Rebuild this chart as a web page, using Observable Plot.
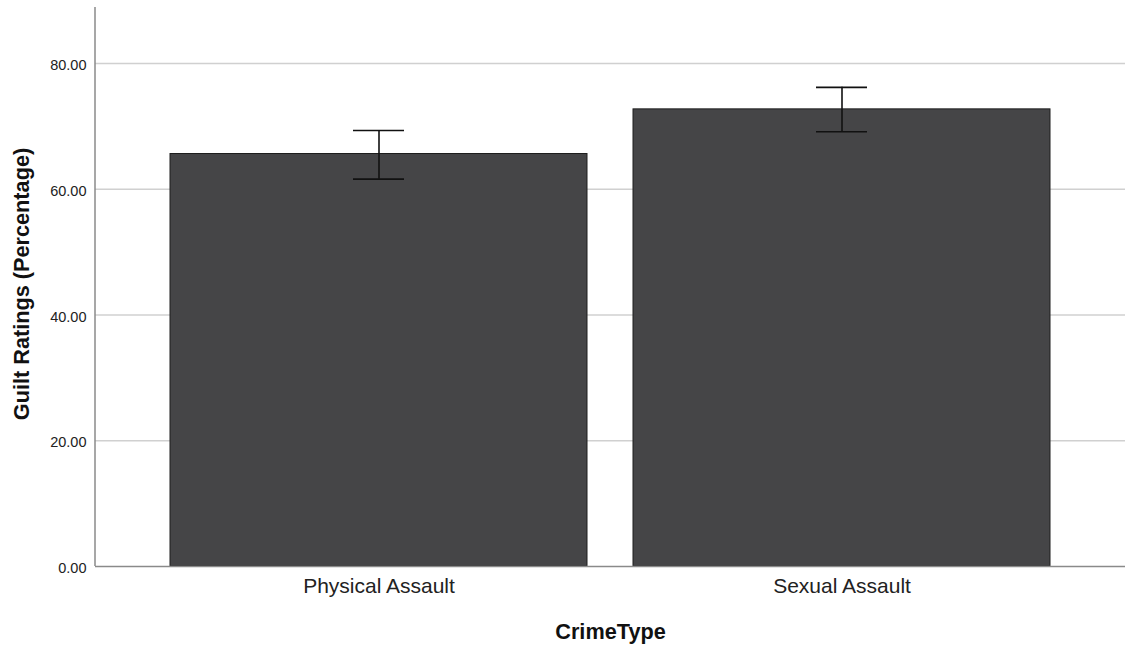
<!DOCTYPE html>
<html>
<head>
<meta charset="utf-8">
<script src="https://cdn.jsdelivr.net/npm/d3@7"></script>
<script src="https://cdn.jsdelivr.net/npm/@observablehq/plot@0.6"></script>
<style>
  html, body { margin: 0; padding: 0; background: #fff; }
</style>
</head>
<body>
<div id="chart"></div>
<script>
// Mean guilt ratings by crime type, with error bar bounds
const categories = ["Physical Assault", "Sexual Assault"];
const means = [65.6, 72.7];
const lower = [61.6, 69.15];
const upper = [69.35, 76.2];
const yTicks = [0, 20, 40, 60, 80];
const gridTicks = [20, 40, 60, 80];
const xTitle = "CrimeType";
const yTitle = "Guilt Ratings (Percentage)";

const rows = categories.map((c, i) => ({crime: c, mean: means[i], lo: lower[i], hi: upper[i]}));

const font = "'Liberation Sans', Arial, Helvetica, sans-serif";

// left axis line along the frame edge
const leftAxisLine = (index, scales, values, dims) => {
  const g = d3.create("svg:line")
    .attr("x1", dims.marginLeft).attr("x2", dims.marginLeft)
    .attr("y1", dims.marginTop).attr("y2", dims.height - dims.marginBottom)
    .attr("stroke", "#8a8a8a").attr("stroke-width", 1.5);
  return g.node();
};

const chart = Plot.plot({
  width: 1128,
  height: 645,
  marginLeft: 95,
  marginRight: 3,
  marginTop: 7,
  marginBottom: 79,
  style: {fontFamily: font, background: "#fff", color: "#222"},
  x: {domain: categories, paddingInner: 0.1, paddingOuter: 0.16, label: null},
  y: {domain: [0, 88.9], label: null},
  marks: [
    Plot.ruleY(gridTicks, {stroke: "#d0d0d0", strokeWidth: 1.5}),
    Plot.barY(rows, {x: "crime", y: "mean", fill: "#454547", stroke: "#1e1e1e", strokeWidth: 1}),
    Plot.ruleX(rows, {x: "crime", y1: "lo", y2: "hi", stroke: "#111", strokeWidth: 1.6}),
    Plot.tickY(rows, {x: "crime", y: "lo", stroke: "#111", strokeWidth: 1.6, insetLeft: 183, insetRight: 183}),
    Plot.tickY(rows, {x: "crime", y: "hi", stroke: "#111", strokeWidth: 1.6, insetLeft: 183, insetRight: 183}),
    Plot.ruleY([0], {stroke: "#8a8a8a", strokeWidth: 1.5}),
    leftAxisLine,
    Plot.axisY({ticks: yTicks, tickFormat: d => d.toFixed(2), tickSize: 0, tickPadding: 9, fontSize: 14.5, label: null, dy: 2}),
    Plot.axisX({tickSize: 0, tickPadding: 12, fontSize: 21, label: null}),
    Plot.text([xTitle], {frameAnchor: "bottom", dy: 72, lineAnchor: "bottom", textAnchor: "middle", fontSize: 21.7, fontWeight: "bold", fill: "#111"}),
    Plot.text([yTitle], {frameAnchor: "left", dx: -73, dy: -3, rotate: -90, textAnchor: "middle", fontSize: 21.7, fontWeight: "bold", fill: "#111"})
  ]
});

document.getElementById("chart").append(chart);
</script>
</body>
</html>
